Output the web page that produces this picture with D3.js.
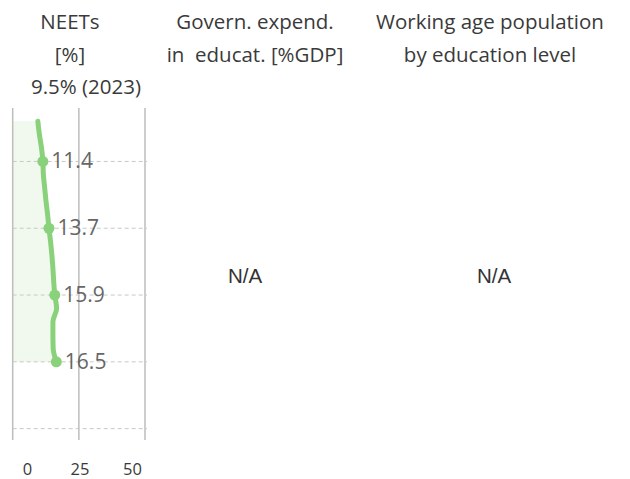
<!DOCTYPE html>
<html>
<head>
<meta charset="utf-8">
<script src="https://cdn.jsdelivr.net/npm/d3@7"></script>
<style>
  body { margin: 0; background: #fff; }
  svg { display: block; }
</style>
</head>
<body>
<div id="content"></div>
<script>
const width = 630;
const height = 479;

// NEETs [%] by year
const years = [2005, 2006, 2007, 2008, 2009, 2010, 2011, 2012, 2013, 2014, 2015, 2016, 2017, 2018, 2019, 2020, 2021, 2022, 2023];
const neets = [16.5, 15.3, 15.2, 15.2, 16.6, 15.9, 15.5, 15.2, 14.8, 14.3, 13.7, 13.2, 12.6, 12.1, 11.6, 11.4, 10.9, 10.1, 9.5];
const labelYears = [2020, 2015, 2010, 2005];
const gridYears = [2020, 2015, 2010, 2005, 2000];
const xTicks = [0, 25, 50];
const latest = '9.5% (2023)';

const titles = [
  { lines: ['NEETs', '[%]'], x: 70 },
  { lines: ['Govern. expend.', 'in\u00a0 educat. [%GDP]'], x: 255 },
  { lines: ['Working age population', 'by education level'], x: 490 }
];
const naPanels = [245, 494];

const green = '#8ad17c';
const greenFill = '#f1f9ef';
const grey = '#bdbdbd';
const textCol = '#3a3a3a';
const font = '"Open Sans", sans-serif';

const svg = d3.select('#content')
  .append('svg')
  .attr('width', width)
  .attr('height', height);

const x = d3.scaleLinear().domain([0, 50]).range([12.7, 145]);
const xLabel = d3.scaleLinear().domain([0, 50]).range([27.5, 132.5]);
const y = d3.scaleLinear().domain([2024, 1999]).range([108, 442]);

const data = years.map((yr, i) => ({ year: yr, value: neets[i] }));

// titles
titles.forEach((t) => {
  t.lines.forEach((ln, i) => {
    svg.append('text')
      .attr('x', t.x)
      .attr('y', 28.5 + i * 33)
      .attr('text-anchor', 'middle')
      .attr('font-family', font)
      .attr('font-size', 20.5)
      .attr('fill', textCol)
      .text(ln);
  });
});

svg.append('text')
  .attr('x', 86)
  .attr('y', 94)
  .attr('text-anchor', 'middle')
  .attr('font-family', font)
  .attr('font-size', 20.5)
  .attr('fill', textCol)
  .text(latest);

// area under the line
const area = d3.area()
  .x0(x(0))
  .x1(d => x(d.value))
  .y(d => y(d.year))
  .curve(d3.curveMonotoneY);

svg.append('path')
  .datum(data)
  .attr('d', area)
  .attr('fill', greenFill);

// vertical grid lines
svg.selectAll('.vgrid')
  .data(xTicks)
  .enter()
  .append('line')
  .attr('x1', d => x(d))
  .attr('x2', d => x(d))
  .attr('y1', 108)
  .attr('y2', 440)
  .attr('stroke', grey)
  .attr('stroke-width', 1.5);

// horizontal dashed grid lines
svg.selectAll('.hgrid')
  .data(gridYears)
  .enter()
  .append('line')
  .attr('x1', x(0))
  .attr('x2', 147)
  .attr('y1', d => y(d))
  .attr('y2', d => y(d))
  .attr('stroke', '#c8c8c8')
  .attr('stroke-width', 1)
  .attr('stroke-dasharray', '4,3');

// the line
const line = d3.line()
  .x(d => x(d.value))
  .y(d => y(d.year))
  .curve(d3.curveMonotoneY);

svg.append('path')
  .datum(data)
  .attr('d', line)
  .attr('fill', 'none')
  .attr('stroke', green)
  .attr('stroke-width', 5)
  .attr('stroke-linecap', 'round');

const labelled = data.filter(d => labelYears.includes(d.year));

svg.selectAll('.dot')
  .data(labelled)
  .enter()
  .append('circle')
  .attr('cx', d => x(d.value))
  .attr('cy', d => y(d.year))
  .attr('r', 5.5)
  .attr('fill', green);

svg.selectAll('.vlabel')
  .data(labelled)
  .enter()
  .append('text')
  .attr('x', d => x(d.value) + 8.5)
  .attr('y', d => y(d.year) + 7)
  .attr('font-family', font)
  .attr('font-size', 21)
  .attr('fill', '#666')
  .text(d => d.value.toFixed(1));

// x tick labels
svg.selectAll('.xtick')
  .data(xTicks)
  .enter()
  .append('text')
  .attr('x', d => xLabel(d))
  .attr('y', 475)
  .attr('text-anchor', 'middle')
  .attr('font-family', font)
  .attr('font-size', 16.5)
  .attr('fill', textCol)
  .text(d => d);

// empty panels
svg.selectAll('.na')
  .data(naPanels)
  .enter()
  .append('text')
  .attr('x', d => d)
  .attr('y', 283)
  .attr('text-anchor', 'middle')
  .attr('font-family', '"Liberation Sans", Arial, sans-serif')
  .attr('font-size', 20.5)
  .attr('fill', '#333')
  .text('N/A');
</script>
</body>
</html>
